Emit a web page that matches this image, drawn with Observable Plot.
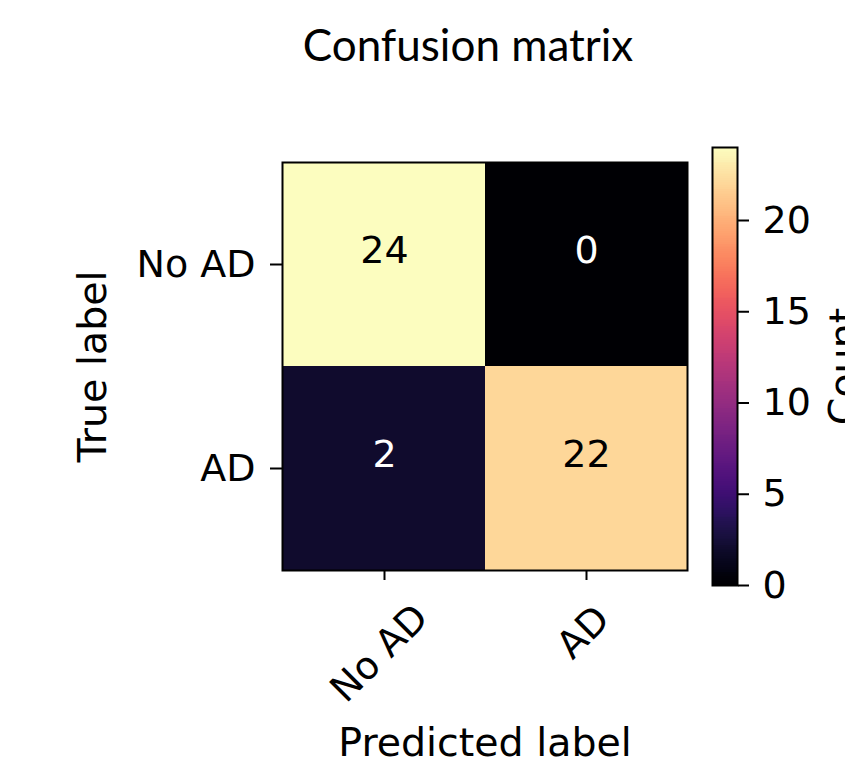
<!DOCTYPE html>
<html>
<head>
<meta charset="utf-8">
<script src="https://cdn.jsdelivr.net/npm/d3@7"></script>
<script src="https://cdn.jsdelivr.net/npm/@observablehq/plot@0.6"></script>
<style>
  body { margin: 0; background: #fff; }
  #wrap { position: relative; width: 845px; height: 769px; overflow: hidden; }
  #wrap svg { position: absolute; left: 0; top: 0; background: transparent; }
</style>
</head>
<body>
<div id="wrap"></div>
<script>
// ---- data ----
const classes = ["No AD", "AD"];          // tick labels (both axes)
const trueLabels = ["No AD", "No AD", "AD", "AD"];
const predLabels = ["No AD", "AD", "No AD", "AD"];
const counts = [24, 0, 2, 22];
const colorTicks = [0, 5, 10, 15, 20];
const colorMax = 24;
const titleText = "Confusion matrix";
const xLabel = "Predicted label";
const yLabel = "True label";
const cLabel = "Count";

const cells = counts.map((c, i) => ({pred: predLabels[i], truth: trueLabels[i], count: c}));

const W = 845, H = 769;
const font = "DejaVu Sans";
const fs = 38;
const lfs = 39.5;
const colorScale = {type: "sequential", scheme: "magma", domain: [0, colorMax]};

const main = Plot.plot({
  width: W, height: H,
  marginLeft: 282, marginRight: 158, marginTop: 162, marginBottom: 199,
  style: {fontFamily: font, background: "transparent", color: "black"},
  x: {type: "band", domain: classes, padding: 0, label: null},
  y: {type: "band", domain: classes, padding: 0, label: null},
  color: colorScale,
  marks: [
    Plot.cell(cells, {x: "pred", y: "truth", fill: "count", inset: 0}),
    Plot.text(cells, {x: "pred", y: "truth", text: d => String(d.count),
      fill: d => d.count > colorMax / 2 ? "black" : "white", dy: -14, fontSize: fs}),
    Plot.frame({stroke: "black", strokeWidth: 2}),
    Plot.axisY({tickSize: 12, tickPadding: 15, fontSize: fs, strokeWidth: 2, label: null}),
    Plot.axisX({tickSize: 10, tickFormat: () => "", strokeWidth: 2, label: null}),
    Plot.text([classes[0]], {x: d => d, text: d => d, frameAnchor: "bottom", rotate: -45,
      textAnchor: "middle", lineAnchor: "middle", dx: -5, dy: 83, fontSize: fs}),
    Plot.text([classes[1]], {x: d => d, text: d => d, frameAnchor: "bottom", rotate: -45,
      textAnchor: "middle", lineAnchor: "middle", dx: -3, dy: 62, fontSize: fs}),
    Plot.text([xLabel], {text: d => d, frameAnchor: "bottom", textAnchor: "middle", lineAnchor: "bottom",
      dy: 185, fontSize: lfs}),
    Plot.text([yLabel], {text: d => d, frameAnchor: "left", rotate: -90, textAnchor: "middle",
      lineAnchor: "bottom", dx: -177, fontSize: lfs}),
    Plot.text([titleText], {text: d => d, frameAnchor: "top", textAnchor: "middle", lineAnchor: "bottom",
      dx: -17, dy: -102, fontSize: 44, fontFamily: "Lato"})
  ]
});

const bar = Plot.plot({
  width: W, height: H,
  marginLeft: 712, marginRight: 108, marginTop: 147, marginBottom: 184,
  style: {fontFamily: font, background: "transparent", color: "black"},
  y: {domain: [0, colorMax], label: null},
  color: colorScale,
  marks: [
    Plot.rect(d3.range(0, colorMax, 0.1), {y1: d => d, y2: d => Math.min(colorMax, d + 0.15),
      fill: d => d + 0.05, shapeRendering: "crispEdges"}),
    Plot.frame({stroke: "black", strokeWidth: 2}),
    Plot.axisY({anchor: "right", ticks: colorTicks, tickSize: 11, tickPadding: 14,
      fontSize: fs, strokeWidth: 2, label: null}),
    Plot.text([cLabel], {text: d => d, frameAnchor: "right", rotate: -90, textAnchor: "middle",
      lineAnchor: "top", dx: 91, fontSize: lfs})
  ]
});

const wrap = document.getElementById("wrap");
wrap.appendChild(main);
wrap.appendChild(bar);
</script>
</body>
</html>
